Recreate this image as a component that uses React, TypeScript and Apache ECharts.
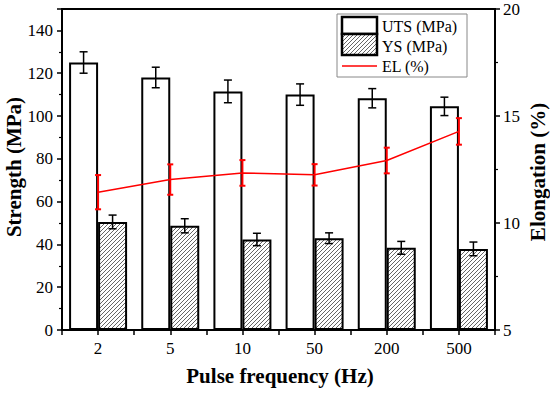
import React, { useEffect, useRef } from "react";
import * as echarts from "echarts";

const categories = ["2", "5", "10", "50", "200", "500"];
const utsValues = [125, 118, 111.5, 110, 108.3, 104.5];
const utsErrors = [5, 4.8, 5.3, 5, 4.5, 4.3];
const ysValues = [50.5, 48.7, 42.3, 42.9, 38.4, 37.9];
const ysErrors = [3.2, 3.3, 2.9, 2.5, 3, 3.2];
const elValues = [11.44, 12.03, 12.34, 12.25, 12.92, 14.28];
const elErrors = [0.8, 0.71, 0.6, 0.5, 0.6, 0.62];
const strengthTicks = { min: 0, max: 150, interval: 20 };
const elongationTicks = { min: 5, max: 20, interval: 5 };

const FONT = "Times New Roman, Liberation Serif, DejaVu Serif, serif";

function makeHatch(): HTMLCanvasElement {
  const c = document.createElement("canvas");
  c.width = 4;
  c.height = 4;
  const ctx = c.getContext("2d")!;
  ctx.fillStyle = "#ffffff";
  ctx.fillRect(0, 0, 4, 4);
  ctx.strokeStyle = "#555555";
  ctx.lineWidth = 0.9;
  ctx.beginPath();
  ctx.moveTo(0, 4);
  ctx.lineTo(4, 0);
  ctx.moveTo(-1, 1);
  ctx.lineTo(1, -1);
  ctx.moveTo(3, 5);
  ctx.lineTo(5, 3);
  ctx.stroke();
  return c;
}

function errorSeries(
  values: number[],
  errors: number[],
  offset: number,
  color: string,
  lineWidth: number,
  capHalf: number,
  yAxisIndex: number
) {
  return {
    type: "custom",
    xAxisIndex: 0,
    yAxisIndex,
    z: 5,
    silent: true,
    encode: { x: 0, y: [1, 2] },
    data: values.map((v, i) => [i, v - errors[i], v + errors[i]]),
    renderItem: (params: any, api: any) => {
      const idx = api.value(0);
      const lo = api.coord([idx, api.value(1)]);
      const hi = api.coord([idx, api.value(2)]);
      const x = hi[0] + offset;
      const style = { stroke: color, lineWidth };
      return {
        type: "group",
        children: [
          { type: "line", shape: { x1: x, y1: hi[1], x2: x, y2: lo[1] }, style },
          { type: "line", shape: { x1: x - capHalf, y1: hi[1], x2: x + capHalf, y2: hi[1] }, style },
          { type: "line", shape: { x1: x - capHalf, y1: lo[1], x2: x + capHalf, y2: lo[1] }, style },
        ],
      };
    },
  };
}

export default function App() {
  const ref = useRef<HTMLDivElement>(null);
  useEffect(() => {
    if (!ref.current) return;
    const chart = echarts.init(ref.current, undefined, { renderer: "svg" });
    const hatch = makeHatch();
    const BW = 29;
    const axisLabelStyle = { color: "#000", fontFamily: FONT, fontSize: 17 };
    const yAxisCommon = {
      type: "value",
      splitLine: { show: false },
      axisLine: { show: true, lineStyle: { color: "#000", width: 2 } },
      axisTick: { show: true, length: 5, lineStyle: { color: "#000", width: 1.5 } },
      minorTick: { show: true, splitNumber: 2, length: 3, lineStyle: { color: "#000", width: 1.2 } },
    };
    chart.setOption({
      animation: false,
      backgroundColor: "#fff",
      textStyle: { fontFamily: FONT },
      grid: {
        left: 62,
        right: 55,
        top: 9,
        bottom: 64,
        show: true,
        borderColor: "#000",
        borderWidth: 2,
        backgroundColor: "transparent",
      },
      xAxis: [
        {
          type: "category",
          data: categories,
          position: "bottom",
          axisLine: { show: true, lineStyle: { color: "#000", width: 2 } },
          axisTick: { show: true, alignWithLabel: true, interval: 0, length: 5, lineStyle: { color: "#000", width: 1.5 } },
          axisLabel: { ...axisLabelStyle, interval: 0, margin: 10 },
        },
        {
          type: "category",
          data: categories,
          position: "bottom",
          axisLine: { show: false },
          axisTick: { show: true, interval: 0, length: 5, lineStyle: { color: "#000", width: 1.5 } },
          axisLabel: { show: false },
        },
      ],
      yAxis: [
        {
          ...yAxisCommon,
          position: "left",
          min: strengthTicks.min,
          max: strengthTicks.max,
          interval: strengthTicks.interval,
          axisLabel: { ...axisLabelStyle, margin: 9, showMaxLabel: false },
        },
        {
          ...yAxisCommon,
          position: "right",
          min: elongationTicks.min,
          max: elongationTicks.max,
          interval: elongationTicks.interval,
          axisLabel: { ...axisLabelStyle, margin: 8 },
        },
      ],
      series: [
        {
          name: "UTS (MPa)",
          type: "bar",
          xAxisIndex: 0,
          yAxisIndex: 0,
          barWidth: BW,
          barGap: "0%",
          z: 2,
          data: utsValues,
          itemStyle: { color: "#ffffff", borderColor: "#000", borderWidth: 2 },
        },
        {
          name: "YS (MPa)",
          type: "bar",
          xAxisIndex: 0,
          yAxisIndex: 0,
          barWidth: BW,
          barGap: "0%",
          z: 2,
          data: ysValues,
          itemStyle: { color: { image: hatch, repeat: "repeat" }, borderColor: "#000", borderWidth: 2 },
        },
        {
          name: "EL (%)",
          type: "line",
          xAxisIndex: 0,
          yAxisIndex: 1,
          z: 4,
          symbol: "none",
          data: elValues,
          lineStyle: { color: "#ff0000", width: 1.5 },
        },
        errorSeries(utsValues, utsErrors, -BW / 2, "#000", 1.5, 4, 0),
        errorSeries(ysValues, ysErrors, BW / 2, "#000", 1.5, 4, 0),
        errorSeries(elValues, elErrors, 0, "#ff0000", 2, 3, 1),
      ],
      graphic: [
        {
          type: "text",
          x: 280,
          y: 376,
          style: {
            text: "Pulse frequency (Hz)",
            fontFamily: FONT,
            fontWeight: "bold",
            fontSize: 21,
            fill: "#000",
            textAlign: "center",
            textVerticalAlign: "middle",
          },
        },
        {
          type: "text",
          x: 13.5,
          y: 167,
          rotation: Math.PI / 2,
          style: {
            text: "Strength (MPa)",
            fontFamily: FONT,
            fontWeight: "bold",
            fontSize: 21,
            fill: "#000",
            textAlign: "center",
            textVerticalAlign: "middle",
          },
        },
        {
          type: "text",
          x: 538,
          y: 172,
          rotation: Math.PI / 2,
          style: {
            text: "Elongation (%)",
            fontFamily: FONT,
            fontWeight: "bold",
            fontSize: 21,
            fill: "#000",
            textAlign: "center",
            textVerticalAlign: "middle",
          },
        },
        {
          type: "group",
          z: 100,
          children: [
            {
              type: "rect",
              shape: { x: 337, y: 14, width: 130, height: 63 },
              style: { fill: "#fff", stroke: "#888", lineWidth: 1 },
            },
            {
              type: "rect",
              shape: { x: 342, y: 17, width: 35, height: 17 },
              style: { fill: "#fff", stroke: "#000", lineWidth: 2.5 },
            },
            {
              type: "rect",
              shape: { x: 342, y: 34, width: 35, height: 21 },
              style: { fill: { image: hatch, repeat: "repeat" } as any, stroke: "#000", lineWidth: 2.5 },
            },
            {
              type: "line",
              shape: { x1: 342, y1: 66, x2: 377, y2: 66 },
              style: { stroke: "#ff0000", lineWidth: 1.5 },
            },
            {
              type: "text",
              x: 382,
              y: 26,
              style: { text: "UTS (MPa)", fontFamily: FONT, fontSize: 16, fill: "#000", textVerticalAlign: "middle" },
            },
            {
              type: "text",
              x: 382,
              y: 46,
              style: { text: "YS (MPa)", fontFamily: FONT, fontSize: 16, fill: "#000", textVerticalAlign: "middle" },
            },
            {
              type: "text",
              x: 382,
              y: 66,
              style: { text: "EL (%)", fontFamily: FONT, fontSize: 16, fill: "#000", textVerticalAlign: "middle" },
            },
          ],
        },
      ],
    });
    return () => chart.dispose();
  }, []);
  return <div ref={ref} style={{ width: 550, height: 394, position: "absolute", left: 0, top: 0 }} />;
}
